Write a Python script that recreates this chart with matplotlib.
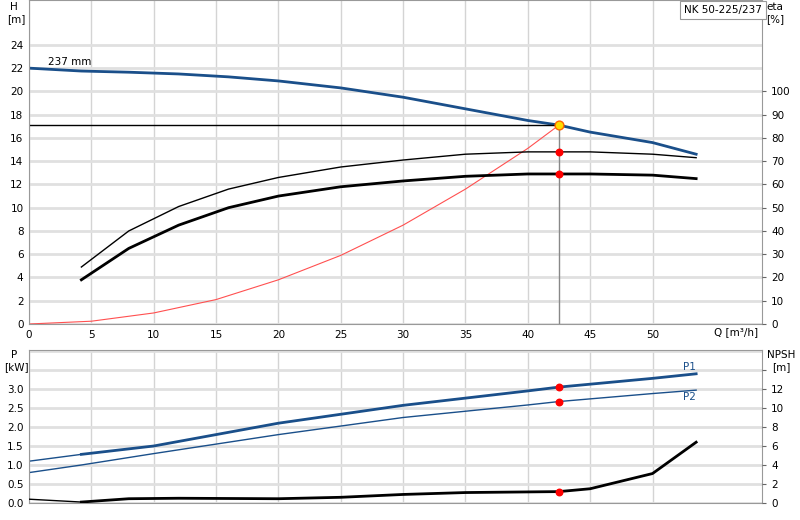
import matplotlib
matplotlib.use("Agg")
import matplotlib.pyplot as plt
import numpy as np

# Head curve
q_h = [0, 4.2, 8, 12, 16, 20, 25, 30, 35, 40, 42.5, 45, 50, 53.5]
h = [22.0, 21.75, 21.65, 21.5, 21.25, 20.9, 20.3, 19.5, 18.5, 17.5, 17.1, 16.5, 15.6, 14.6]
# efficiency curves [%]
q_e = [4.2, 8, 12, 16, 20, 25, 30, 35, 40, 42.5, 45, 50, 53.5]
eta_thin = [24.5, 40, 50.5, 58, 63, 67.5, 70.5, 73, 74, 74, 74, 73, 71.5]
eta_thick = [19, 32.5, 42.5, 50, 55, 59, 61.5, 63.5, 64.5, 64.5, 64.5, 64, 62.5]
# system curve
q_s = [0, 5, 10, 15, 20, 25, 30, 35, 40, 42.5]
h_s = [0, 0.24, 0.95, 2.1, 3.8, 5.9, 8.5, 11.6, 15.1, 17.1]
# duty point
q_op, h_op = 42.5, 17.1
eta_op = [74, 64.5]
# power
q_p = [0, 4.2, 10, 20, 30, 40, 42.5, 50, 53.5]
p1 = [1.1, 1.28, 1.5, 2.1, 2.57, 2.95, 3.05, 3.28, 3.4]
p2 = [0.8, 1.0, 1.3, 1.8, 2.25, 2.58, 2.67, 2.88, 2.97]
p_op = [3.05, 2.67]
# NPSH
q_n = [0, 4.2, 8, 12, 20, 25, 30, 35, 42.5, 45, 50, 53.5]
npsh = [0.4, 0.1, 0.45, 0.5, 0.45, 0.6, 0.9, 1.1, 1.2, 1.5, 3.1, 6.4]
npsh_op = 1.2
x_ticks = [0, 5, 10, 15, 20, 25, 30, 35, 40, 45, 50]

blue = "#1a4f8a"
fs = 7.5
fig = plt.figure(figsize=(8, 5.2), dpi=100)
ax = fig.add_axes([29/800, 1-324/520, 733/800, 324/520])
XMAX = 733/12.47
ax.set_xlim(0, XMAX)
ax.set_ylim(0, 324/11.63)
ax.set_xticks(x_ticks)
ax.set_yticks(range(0, 26, 2))
ax.set_yticklabels([str(v) if v <= 24 else "" for v in range(0, 26, 2)], fontsize=fs)
ax.set_xticklabels([str(v) for v in x_ticks], fontsize=fs)
ax.tick_params(length=0, pad=4)
ax.grid(axis="x", color="#d4d4d4", lw=1)
ax.grid(axis="y", color="#e0e0e0", lw=2)
ax.set_axisbelow(True)
for s in ax.spines.values():
    s.set_color("#999999")

ax.plot(q_h, h, color=blue, lw=2)
ax.plot(q_s, h_s, color="#ff5050", lw=0.8)
ax.plot([0, q_op], [h_op, h_op], color="black", lw=1)
ax.plot([q_op, q_op], [0, h_op], color="#888888", lw=1)
ax.text(1.5, 22.1, "237 mm", fontsize=fs, va="bottom")
ax.text(XMAX - 0.3, -0.3, "Q [m³/h]", fontsize=fs, ha="right", va="top")
fig.text(14/800, 1-7/520, "H", fontsize=fs, ha="center", va="center")
fig.text(16/800, 1-19/520, "[m]", fontsize=fs, ha="center", va="center")

ax2 = ax.twinx()
ax2.set_ylim(0, 324/11.63*5)
ax2.set_yticks(range(0, 101, 10))
ax2.set_yticklabels([str(v) for v in range(0, 101, 10)], fontsize=fs)
ax2.tick_params(length=3, color="#666666")
for s in ax2.spines.values():
    s.set_visible(False)
ax2.plot(q_e, eta_thin, color="black", lw=1)
ax2.plot(q_e, eta_thick, color="black", lw=2)
ax2.scatter([q_op, q_op], eta_op, color="red", s=22, zorder=5)
ax.scatter([q_op], [h_op], s=40, color="#ffdd00", edgecolor="#ff6600", lw=1, zorder=6)
fig.text(775/800, 1-7/520, "eta", fontsize=fs, ha="center", va="center")
fig.text(775/800, 1-19/520, "[%]", fontsize=fs, ha="center", va="center")
fig.text(723/800, 1-10/520, "NK 50-225/237", fontsize=fs, ha="center", va="center",
         bbox=dict(boxstyle="square,pad=0.35", fc="white", ec="#999999", lw=0.8))

# bottom panel
bx = fig.add_axes([29/800, 1-503/520, 733/800, 153/520])
bx.set_xlim(0, XMAX)
bx.set_ylim(0, 153/38)
bx.set_xticks(x_ticks)
bx.set_xticklabels([])
bx.set_yticks(np.arange(0, 4.01, 0.5))
bx.set_yticklabels([f"{v:.1f}" if v <= 3.0 else "" for v in np.arange(0, 4.01, 0.5)], fontsize=fs)
bx.tick_params(length=0, pad=4)
bx.grid(axis="x", color="#d4d4d4", lw=1)
bx.grid(axis="y", color="#e0e0e0", lw=2)
bx.set_axisbelow(True)
for s in bx.spines.values():
    s.set_color("#999999")
bx.plot(q_p[:2], p1[:2], color=blue, lw=1)
bx.plot(q_p[1:], p1[1:], color=blue, lw=2)
bx.plot(q_p, p2, color=blue, lw=1)
bx.scatter([q_op, q_op], p_op, color="red", s=22, zorder=5)
bx.text(53.5, 3.45, "P1", fontsize=fs, color=blue, ha="right", va="bottom")
bx.text(53.5, 2.92, "P2", fontsize=fs, color=blue, ha="right", va="top")
fig.text(14/800, 1-355/520, "P", fontsize=fs, ha="center", va="center")
fig.text(16/800, 1-367/520, "[kW]", fontsize=fs, ha="center", va="center")

bx2 = bx.twinx()
bx2.set_ylim(0, 153/38*4)
bx2.set_yticks(range(0, 15, 2))
bx2.set_yticklabels([str(v) if v <= 12 else "" for v in range(0, 15, 2)], fontsize=fs)
bx2.tick_params(length=3, color="#666666")
for s in bx2.spines.values():
    s.set_visible(False)
bx2.plot(q_n[:2], npsh[:2], color="black", lw=1)
bx2.plot(q_n[1:], npsh[1:], color="black", lw=2)
bx2.scatter([q_op], [npsh_op], color="red", s=22, zorder=5)
fig.text(781/800, 1-355/520, "NPSH", fontsize=fs, ha="center", va="center")
fig.text(781/800, 1-367/520, "[m]", fontsize=fs, ha="center", va="center")

fig.savefig("out.png", dpi=100)
